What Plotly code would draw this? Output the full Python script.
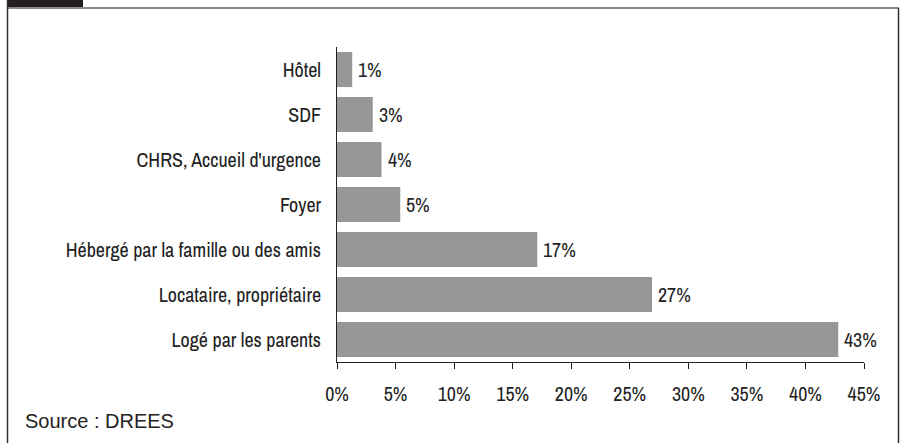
import plotly.graph_objects as go

categories = ["Logé par les parents", "Locataire, propriétaire", "Hébergé par la famille ou des amis",
              "Foyer", "CHRS, Accueil d'urgence", "SDF", "Hôtel"]
values = [42.8, 26.9, 17.1, 5.4, 3.8, 3.05, 1.3]
tick_vals = [0, 5, 10, 15, 20, 25, 30, 35, 40, 45]
tick_text = [f"{v}%" for v in tick_vals]
source_text = "Source : DREES"

W, H = 906, 443
L, R, T, B = 337, 42, 47, 81
PW, PH = W - L - R, H - T - B

def px(xp):
    return (xp - L) / PW

def py(yp):
    return (H - B - yp) / PH

NARROW = "Liberation Sans Narrow, Arial Narrow, Archivo Narrow, PT Sans Narrow, Roboto Condensed, Ubuntu Condensed, Noto Sans, sans-serif"

def nfont(size):
    return dict(family=NARROW, size=size, color="#222")

fig = go.Figure()
fig.add_trace(go.Bar(
    x=values, y=categories, orientation="h",
    marker=dict(color="#979797", line=dict(width=0)),
    width=0.78, hoverinfo="skip",
))

for c, v in zip(categories, values):
    fig.add_annotation(x=v, y=c, xref="x", yref="y", text=f"{v:.0f}%",
                       showarrow=False, xanchor="left", xshift=4, font=nfont(20))

fig.add_annotation(x=px(23), y=py(421), xref="paper", yref="paper", text=source_text,
                   showarrow=False, xanchor="left", yanchor="middle",
                   font=dict(family="Liberation Sans, Arial, sans-serif", size=20, color="#222"))

shapes = [
    dict(type="rect", xref="paper", yref="paper", x0=px(7), x1=px(83), y0=py(8), y1=py(0),
         fillcolor="#231f20", line=dict(width=0)),
    dict(type="line", xref="paper", yref="paper", x0=px(7), x1=px(899), y0=py(8), y1=py(8),
         line=dict(color="#8a8a8a", width=2)),
    dict(type="line", xref="paper", yref="paper", x0=px(7.5), x1=px(7.5), y0=py(0), y1=py(443),
         line=dict(color="#333", width=1.5)),
    dict(type="line", xref="paper", yref="paper", x0=px(898.5), x1=px(898.5), y0=py(8), y1=py(443),
         line=dict(color="#333", width=1.5)),
]

fig.update_layout(
    width=W, height=H, margin=dict(l=L, r=R, t=T, b=B),
    paper_bgcolor="white", plot_bgcolor="white",
    showlegend=False, shapes=shapes,
    xaxis=dict(range=[0, 45], tickvals=tick_vals, ticktext=tick_text,
               showgrid=False, zeroline=False, showline=True, linecolor="#222", linewidth=1,
               ticks="outside", ticklen=6, tickcolor="#222", ticklabelstandoff=8,
               tickfont=nfont(20)),
    yaxis=dict(range=[-0.5, 6.5], showgrid=False, zeroline=False, showline=True,
               linecolor="#222", linewidth=1, ticks="", ticklabelstandoff=11,
               tickfont=nfont(20)),
)

fig.write_html("out.html")
